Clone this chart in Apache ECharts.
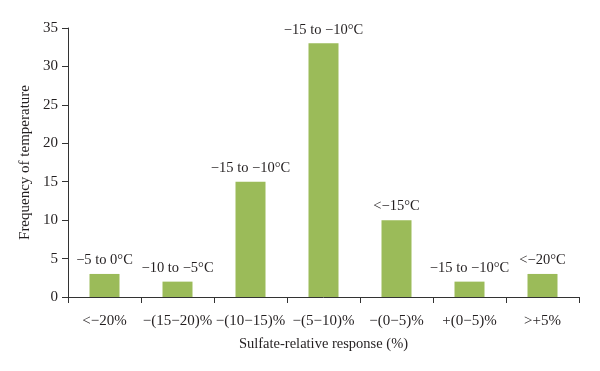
<!DOCTYPE html>
<html><head><meta charset="utf-8">
<script src="https://cdn.jsdelivr.net/npm/echarts@6/dist/echarts.min.js"></script>
<style>html,body{margin:0;padding:0;background:#fff}#c{width:600px;height:371px}</style>
</head><body><div id="c"></div>
<script>
const categories = ["<\u221220%", "\u2212(15\u221220)%", "\u2212(10\u221215)%", "\u2212(5\u221210)%", "\u2212(0\u22125)%", "+(0\u22125)%", ">+5%"];
const frequencies = [3, 2, 15, 33, 10, 2, 3];
const barLabels = ["\u22125 to 0\u00b0C", "\u221210 to \u22125\u00b0C", "\u221215 to \u221210\u00b0C", "\u221215 to \u221210\u00b0C", "<\u221215\u00b0C", "\u221215 to \u221210\u00b0C", "<\u221220\u00b0C"];
const yTicks = {min: 0, max: 35, interval: 5};

const font = "'Liberation Serif', 'DejaVu Serif', serif";
const txt = '#231f20';
const chart = echarts.init(document.getElementById('c'), null, {renderer: 'canvas'});
chart.setOption({
  animation: false,
  grid: {left: 68, right: 21, top: 28, bottom: 74},
  xAxis: {
    type: 'category', data: categories, boundaryGap: true,
    axisLine: {lineStyle: {color: '#333', width: 1}},
    axisTick: {show: true, length: 6, lineStyle: {color: '#333'}},
    axisLabel: {color: txt, fontFamily: font, fontSize: 15, margin: 17, interval: 0},
    name: 'Sulfate-relative response (%)', nameLocation: 'middle', nameGap: 40,
    nameTextStyle: {color: txt, fontFamily: font, fontSize: 14.5}
  },
  yAxis: {
    type: 'value', min: yTicks.min, max: yTicks.max, interval: yTicks.interval,
    axisLine: {show: true, lineStyle: {color: '#333', width: 1}},
    axisTick: {show: true, length: 6, lineStyle: {color: '#333'}},
    splitLine: {show: false},
    axisLabel: {color: txt, fontFamily: font, fontSize: 15, margin: 10},
    name: 'Frequency of temperature', nameLocation: 'middle', nameGap: 33,
    nameTextStyle: {color: txt, fontFamily: font, fontSize: 15}
  },
  series: [{
    type: 'bar', data: frequencies, barWidth: 30,
    itemStyle: {color: '#9bbb59'},
    label: {show: true, position: 'top', distance: 6, color: txt, fontFamily: font, fontSize: 14.5,
      formatter: p => barLabels[p.dataIndex]}
  }]
});
</script></body></html>
